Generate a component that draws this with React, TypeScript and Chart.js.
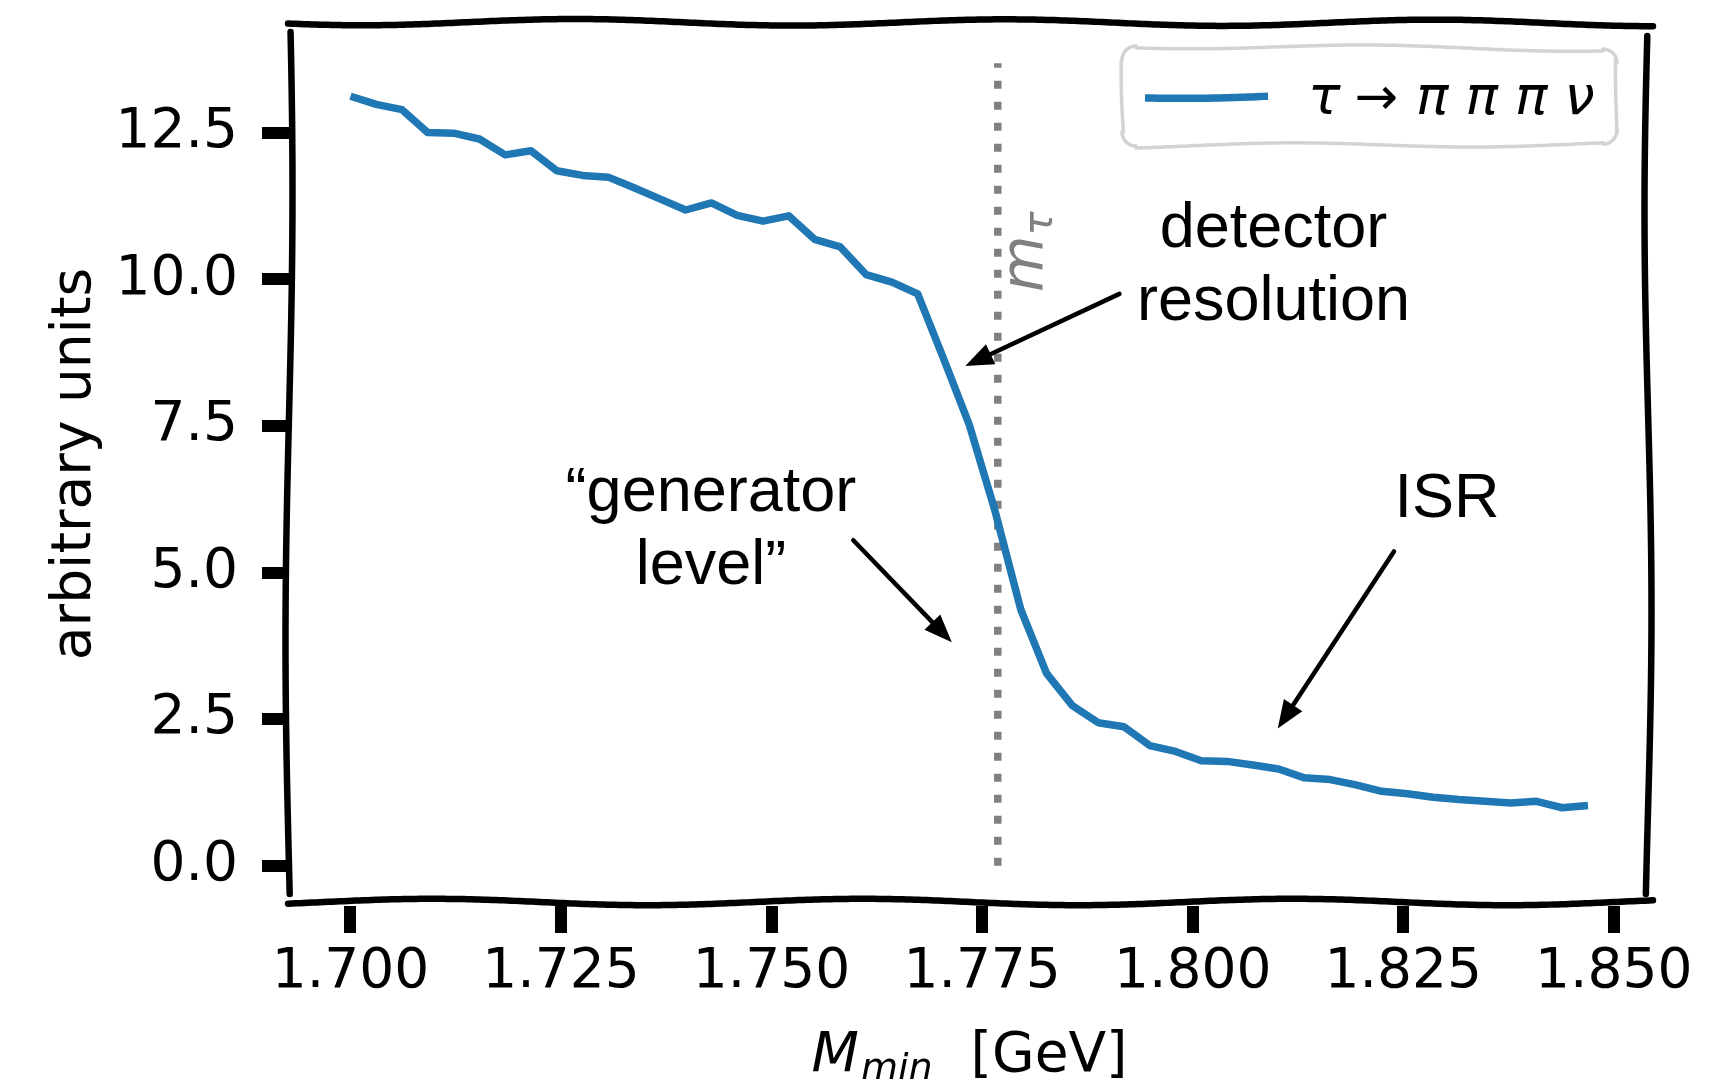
import { useEffect, useRef } from "react";
import { Chart, registerables } from "chart.js";

Chart.register(...registerables);

const W = 1722;
const H = 1079;

// ---- data ----
const mMinGeV = [
  1.7, 1.70306, 1.70612, 1.70918, 1.71224, 1.71531, 1.71837, 1.72143, 1.72449, 1.72755,
  1.73061, 1.73367, 1.73673, 1.7398, 1.74286, 1.74592, 1.74898, 1.75204, 1.7551, 1.75816,
  1.76122, 1.76429, 1.76735, 1.77041, 1.77347, 1.77653, 1.77959, 1.78265, 1.78571, 1.78878,
  1.79184, 1.7949, 1.79796, 1.80102, 1.80408, 1.80714, 1.8102, 1.81327, 1.81633, 1.81939,
  1.82245, 1.82551, 1.82857, 1.83163, 1.83469, 1.83776, 1.84082, 1.84388, 1.84694,
];
const arbitraryUnits = [
  13.12, 12.98, 12.89, 12.5, 12.49, 12.39, 12.12, 12.19, 11.85, 11.77,
  11.74, 11.56, 11.37, 11.18, 11.3, 11.09, 10.99, 11.08, 10.68, 10.55,
  10.08, 9.95, 9.75, 8.65, 7.52, 6.05, 4.37, 3.28, 2.73, 2.44,
  2.37, 2.05, 1.95, 1.79, 1.78, 1.72, 1.65, 1.5, 1.47, 1.38,
  1.27, 1.23, 1.17, 1.13, 1.1, 1.07, 1.1, 0.99, 1.03,
];
const xTickValues = [1.7, 1.725, 1.75, 1.775, 1.8, 1.825, 1.85];
const xTickLabels = ["1.700", "1.725", "1.750", "1.775", "1.800", "1.825", "1.850"];
const yTickValues = [0, 2.5, 5, 7.5, 10, 12.5];
const yTickLabels = ["0.0", "2.5", "5.0", "7.5", "10.0", "12.5"];
const tauMass = 1.77686;
const tauLineSpan = [0, 13.68];
const seriesLabel = "τ → π π π ν";

// annotation anchors in data coordinates
const annotations = [
  { lines: ["detector", "resolution"], textX: 1.8096, textY: 10.55, from: [1.7913, 9.75], to: [1.773, 8.52] },
  { lines: ["“generator", "level”"], textX: 1.7428, textY: 6.05, from: [1.7597, 5.55], to: [1.7714, 3.81] },
  { lines: ["ISR"], textX: 1.8302, textY: 5.94, from: [1.8239, 5.36], to: [1.8101, 2.34] },
];
const tauLabelAnchor = [1.78213, 10.47];

// ---- styles ----
const BLUE = "#1f77b4";
const GRAY = "#808080";
const TICK_FONT = { family: "'DejaVu Sans'", size: 55 };

function wavy(ctx: CanvasRenderingContext2D, x0: number, y0: number, x1: number, y1: number, amp: number, wl: number, phase: number) {
  const dx = x1 - x0, dy = y1 - y0;
  const L = Math.hypot(dx, dy);
  const nx = -dy / L, ny = dx / L;
  const steps = Math.max(2, Math.ceil(L / 4));
  ctx.beginPath();
  for (let k = 0; k <= steps; k++) {
    const t = k / steps;
    const off = amp * Math.sin((2 * Math.PI * t * L) / wl + phase);
    const px = x0 + dx * t + nx * off;
    const py = y0 + dy * t + ny * off;
    if (k === 0) ctx.moveTo(px, py);
    else ctx.lineTo(px, py);
  }
  ctx.stroke();
}

function arrow(ctx: CanvasRenderingContext2D, x0: number, y0: number, x1: number, y1: number) {
  const dx = x1 - x0, dy = y1 - y0;
  const L = Math.hypot(dx, dy);
  const ux = dx / L, uy = dy / L;
  const hl = 28, hw = 11;
  const bx = x1 - ux * hl, by = y1 - uy * hl;
  ctx.beginPath();
  ctx.moveTo(x0, y0);
  ctx.lineTo(bx + ux * 2, by + uy * 2);
  ctx.stroke();
  ctx.beginPath();
  ctx.moveTo(x1, y1);
  ctx.lineTo(bx - uy * hw, by + ux * hw);
  ctx.lineTo(bx + uy * hw, by - ux * hw);
  ctx.closePath();
  ctx.fill();
}

const xkcdPlugin = {
  id: "xkcdDecor",
  afterDatasetsDraw(chart: any) {
    const { ctx, chartArea: a } = chart;
    ctx.save();
    ctx.strokeStyle = "#000";
    ctx.lineWidth = 6.5;
    ctx.lineCap = "round";
    wavy(ctx, a.left - 1, a.top, a.right + 3, a.top + 1, 3.2, 430, 0.5);
    wavy(ctx, a.left - 1, a.bottom - 4, a.right + 3, a.bottom - 4, 3.2, 430, 2.6);
    wavy(ctx, a.left, a.top + 10, a.left, a.bottom - 12, 3.5, 900, 3.6);
    wavy(ctx, a.right - 2, a.top + 14, a.right - 2, a.bottom - 12, 3.5, 800, 0.2);
    ctx.restore();
  },
  afterDraw(chart: any) {
    const { ctx, chartArea: a, scales } = chart;
    const xs = scales.x, ys = scales.y;
    const px = (v: number) => xs.getPixelForValue(v);
    const py = (v: number) => ys.getPixelForValue(v);
    ctx.save();

    // annotations
    ctx.fillStyle = "#000";
    ctx.strokeStyle = "#000";
    ctx.lineWidth = 4.5;
    ctx.lineCap = "round";
    ctx.font = "63px 'Liberation Sans'";
    ctx.textAlign = "center";
    ctx.textBaseline = "alphabetic";
    for (const an of annotations) {
      const tx = px(an.textX), ty = py(an.textY);
      an.lines.forEach((ln, k) => ctx.fillText(ln, tx, ty + k * 73));
      arrow(ctx, px(an.from[0]), py(an.from[1]), px(an.to[0]), py(an.to[1]));
    }

    // m_tau label (rotated)
    {
      ctx.save();
      ctx.translate(px(tauLabelAnchor[0]), py(tauLabelAnchor[1]));
      ctx.rotate(-Math.PI / 2);
      ctx.fillStyle = GRAY;
      ctx.textAlign = "left";
      const fm = "italic 58px 'DejaVu Sans'";
      const ft = "italic 40px 'DejaVu Sans'";
      ctx.font = fm;
      const wm = ctx.measureText("m").width;
      ctx.font = ft;
      const wt = ctx.measureText("τ").width;
      const start = -(wm + wt) / 2;
      ctx.font = fm;
      ctx.fillText("m", start, 0);
      ctx.font = ft;
      ctx.fillText("τ", start + wm, 10);
      ctx.restore();
    }

    // x-axis title: M_min  [GeV]
    {
      ctx.fillStyle = "#000";
      ctx.textAlign = "left";
      const fM = "italic 55px 'DejaVu Sans'";
      const fS = "italic 38px 'DejaVu Sans'";
      const fR = "55px 'DejaVu Sans'";
      ctx.font = fM; const w1 = ctx.measureText("M").width;
      ctx.font = fS; const w2 = ctx.measureText("min").width;
      ctx.font = fR; const w3 = ctx.measureText("[GeV]").width;
      const gap = 40;
      const total = w1 + w2 + gap + w3;
      const cx = (a.left + a.right) / 2;
      const base = a.bottom + 165;
      let x = cx - total / 2;
      ctx.font = fM; ctx.fillText("M", x, base); x += w1 + 2;
      ctx.font = fS; ctx.fillText("min", x, base + 9); x += w2 + gap - 2;
      ctx.font = fR; ctx.fillText("[GeV]", x, base);
    }

    // y-axis title
    {
      ctx.save();
      ctx.translate(90, (a.top + a.bottom) / 2);
      ctx.rotate(-Math.PI / 2);
      ctx.textAlign = "center";
      ctx.font = "55px 'DejaVu Sans'";
      ctx.fillStyle = "#000";
      ctx.fillText("arbitrary units", 0, 0);
      ctx.restore();
    }

    // legend
    {
      const bw = 495, bh = 100;
      const bx = a.right - 528, by = a.top + 24;
      const r = 14;
      ctx.fillStyle = "rgba(255,255,255,0.85)";
      ctx.beginPath();
      ctx.roundRect(bx, by, bw, bh, r);
      ctx.fill();
      ctx.strokeStyle = "#d3d3d3";
      ctx.lineWidth = 3.5;
      ctx.lineCap = "round";
      wavy(ctx, bx + r, by, bx + bw - r, by + 3, 2.5, 380, 0.8);
      wavy(ctx, bx + r, by + bh, bx + bw - r, by + bh - 2, 2.5, 380, 2.2);
      wavy(ctx, bx, by + r, bx + 2, by + bh - r, 1.5, 200, 0.5);
      wavy(ctx, bx + bw, by + r, bx + bw - 1, by + bh - r, 1.5, 200, 1.5);
      const corners = [
        [bx + r, by + r, Math.PI, 1.5 * Math.PI],
        [bx + bw - r, by + r + 3, 1.5 * Math.PI, 2 * Math.PI],
        [bx + bw - r, by + bh - r - 2, 0, 0.5 * Math.PI],
        [bx + r, by + bh - r, 0.5 * Math.PI, Math.PI],
      ];
      for (const c of corners) {
        ctx.beginPath();
        ctx.arc(c[0], c[1], r, c[2], c[3]);
        ctx.stroke();
      }
      const ds = chart.data.datasets[0];
      ctx.strokeStyle = ds.borderColor;
      ctx.lineWidth = ds.borderWidth;
      ctx.lineCap = "butt";
      wavy(ctx, bx + 23, by + 52, bx + 146, by + 50, 1.2, 260, 0);
      // label: greek italic, arrow upright
      ctx.fillStyle = "#000";
      ctx.textAlign = "left";
      const parts = ds.label.split(" ");
      let x = bx + 186;
      const base = by + 68;
      parts.forEach((p: string, k: number) => {
        ctx.font = p === "→" ? "52px 'DejaVu Sans'" : "italic 54px 'DejaVu Sans'";
        ctx.fillText(p, x, base);
        x += ctx.measureText(p).width + (k === 0 ? 14 : k === 1 ? 18 : 17);
      });
    }

    ctx.restore();
  },
};

export default function App() {
  const ref = useRef<HTMLCanvasElement | null>(null);
  useEffect(() => {
    if (!ref.current) return;
    const chart = new Chart(ref.current, {
      type: "line",
      data: {
        datasets: [
          {
            label: seriesLabel,
            data: mMinGeV.map((x, i) => ({ x, y: arbitraryUnits[i] })),
            borderColor: BLUE,
            borderWidth: 7.5,
            pointRadius: 0,
            tension: 0,
            borderJoinStyle: "round",
            borderCapStyle: "butt",
          },
          {
            label: "m_tau",
            data: tauLineSpan.map((y) => ({ x: tauMass, y })),
            borderColor: GRAY,
            borderWidth: 7.5,
            borderDash: [8, 13],
            borderCapStyle: "butt",
            pointRadius: 0,
          },
        ],
      },
      options: {
        animation: false,
        responsive: false,
        devicePixelRatio: 1,
        layout: { padding: { top: 22, right: 72, left: 0, bottom: 0 } },
        plugins: { legend: { display: false }, tooltip: { enabled: false } },
        scales: {
          x: {
            type: "linear",
            min: 1.6927,
            max: 1.8543,
            afterBuildTicks: (ax: any) => {
              ax.ticks = xTickValues.map((v) => ({ value: v }));
            },
            afterFit: (ax: any) => {
              ax.height = 173;
              ax.paddingLeft = 0;
              ax.paddingRight = 0;
            },
            ticks: {
              callback: (_v: any, i: number) => xTickLabels[i],
              font: TICK_FONT,
              color: "#000",
              padding: 7,
              maxRotation: 0,
              autoSkip: false,
            },
            grid: { drawOnChartArea: false, drawTicks: true, tickLength: 27, lineWidth: 12, tickWidth: 12, tickColor: "#000", color: "#000" },
            border: { display: false },
          },
          y: {
            type: "linear",
            min: -0.685,
            max: 14.385,
            afterBuildTicks: (ax: any) => {
              ax.ticks = yTickValues.map((v) => ({ value: v }));
            },
            afterFit: (ax: any) => {
              ax.width = 289;
              ax.paddingTop = 0;
              ax.paddingBottom = 0;
            },
            ticks: {
              callback: (_v: any, i: number) => yTickLabels[i],
              font: TICK_FONT,
              color: "#000",
              padding: 24,
              autoSkip: false,
            },
            grid: { drawOnChartArea: false, drawTicks: true, tickLength: 27, lineWidth: 12, tickWidth: 12, tickColor: "#000", color: "#000" },
            border: { display: false },
          },
        },
      },
      plugins: [xkcdPlugin],
    } as any);
    return () => chart.destroy();
  }, []);
  return (
    <canvas
      ref={ref}
      width={W}
      height={H}
      style={{ position: "fixed", left: 0, top: 0, width: W, height: H, background: "#fff" }}
    />
  );
}
